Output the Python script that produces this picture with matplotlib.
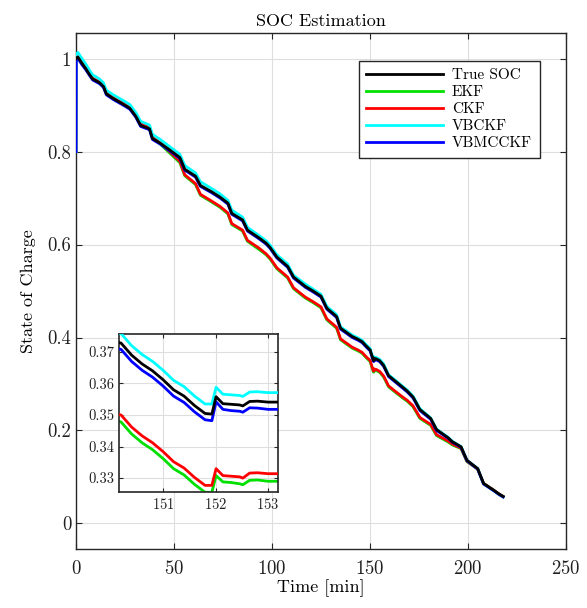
import numpy as np
import matplotlib.pyplot as plt

plt.rcParams['font.family'] = 'serif'
plt.rcParams['font.serif'] = ['cmr10', 'DejaVu Serif']
plt.rcParams['mathtext.fontset'] = 'cm'
plt.rcParams['axes.formatter.use_mathtext'] = True

# time axis [min]; dense section around 150-153 min for the zoomed view
t = np.array([
    0, 0.1, 1, 3, 5, 7, 8.5, 12, 14, 15.5, 19, 24, 27.5, 30.5, 33, 37.5, 39,
    43, 48, 53, 55.5, 61, 63.5, 69, 73.5, 77.5, 79.5, 85, 87.5, 93.5, 97, 99,
    102.5, 108, 111, 117, 121, 125, 128, 133, 135, 141, 144, 146, 148,
    150.2, 150.4, 150.6, 150.8, 151.0, 151.2, 151.4, 151.6, 151.8, 151.93,
    152.01, 152.14, 152.3, 152.46, 152.52, 152.65, 152.8, 153.0, 153.2,
    155, 157, 159.5, 163, 167, 169, 172, 175.5, 181, 184, 190, 192, 196.5,
    199.5, 205, 208, 213, 216, 218])

soc_true = np.array([
    1.000, 1.002, 1.003, 0.990, 0.978, 0.965, 0.956, 0.948, 0.940, 0.924,
    0.914, 0.902, 0.893, 0.876, 0.856, 0.849, 0.828, 0.818, 0.803, 0.787,
    0.762, 0.747, 0.727, 0.714, 0.702, 0.689, 0.667, 0.653, 0.631, 0.614,
    0.603, 0.594, 0.573, 0.553, 0.530, 0.510, 0.500, 0.489, 0.463, 0.445,
    0.420, 0.402, 0.396, 0.391, 0.382,
    0.3728, 0.3690, 0.3662, 0.3640, 0.3612, 0.3580, 0.3560, 0.3530, 0.3505,
    0.3503, 0.3558, 0.3536, 0.3534, 0.3532, 0.3529, 0.3543, 0.3544, 0.3541,
    0.3541,
    0.350, 0.340, 0.318, 0.306, 0.292, 0.285, 0.272, 0.245, 0.226, 0.202,
    0.184, 0.176, 0.165, 0.136, 0.118, 0.086, 0.072, 0.063, 0.058])

# estimation error of each filter relative to the true SOC
err_ekf = np.array([
    -0.200, -0.001, 0.000, 0.000, 0.000, 0.000, 0.000, 0.000, 0.000, 0.000,
    0.000, 0.000, 0.000, 0.000, 0.001, 0.001, 0.001, -0.002, -0.007, -0.011,
    -0.014, -0.018, -0.021, -0.022, -0.022, -0.023, -0.024, -0.024, -0.024,
    -0.025, -0.025, -0.025, -0.025, -0.025, -0.025, -0.025, -0.025, -0.025,
    -0.025, -0.025, -0.025, -0.025, -0.025, -0.025, -0.025,
    -0.025, -0.025, -0.025, -0.025, -0.025, -0.025, -0.025, -0.025, -0.025,
    -0.0248, -0.025, -0.0248, -0.0248, -0.025, -0.025, -0.025, -0.025,
    -0.0251, -0.0251,
    -0.025, -0.025, -0.024, -0.024, -0.023, -0.022, -0.021, -0.019, -0.015,
    -0.013, -0.009, -0.007, -0.004, -0.003, -0.001, 0.000, 0.000, 0.000, 0.000])

err_ckf = np.array([
    -0.200, 0.000, 0.002, 0.002, 0.002, 0.002, 0.002, 0.002, 0.002, 0.002,
    0.002, 0.002, 0.002, 0.002, 0.004, 0.004, 0.003, 0.000, -0.004, -0.008,
    -0.012, -0.016, -0.019, -0.020, -0.020, -0.021, -0.022, -0.022, -0.022,
    -0.022, -0.023, -0.023, -0.023, -0.023, -0.023, -0.023, -0.023, -0.023,
    -0.023, -0.023, -0.023, -0.023, -0.023, -0.023, -0.023,
    -0.0228, -0.0228, -0.0228, -0.0228, -0.0228, -0.0228, -0.0228, -0.0228,
    -0.0228, -0.0226, -0.0228, -0.0228, -0.0228, -0.0228, -0.0229, -0.0227,
    -0.0227, -0.0227, -0.0227,
    -0.023, -0.023, -0.022, -0.022, -0.021, -0.020, -0.019, -0.017, -0.013,
    -0.011, -0.007, -0.005, -0.003, -0.002, -0.001, 0.000, 0.000, 0.000, 0.000])

err_vbckf = np.array([
    -0.200, 0.008, 0.010, 0.010, 0.010, 0.009, 0.009, 0.008, 0.008, 0.008,
    0.008, 0.008, 0.008, 0.008, 0.009, 0.008, 0.009, 0.008, 0.007, 0.007,
    0.008, 0.007, 0.008, 0.007, 0.007, 0.006, 0.007, 0.006, 0.006, 0.005,
    0.005, 0.005, 0.005, 0.005, 0.004, 0.005, 0.004, 0.004, 0.004, 0.004,
    0.003, 0.003, 0.003, 0.003, 0.003,
    0.003, 0.003, 0.003, 0.003, 0.003, 0.003, 0.003, 0.003, 0.003, 0.0032,
    0.003, 0.003, 0.003, 0.003, 0.003, 0.003, 0.003, 0.003, 0.003,
    0.003, 0.003, 0.002, 0.002, 0.002, 0.002, 0.002, 0.002, 0.001, 0.001,
    0.001, 0.001, 0.000, 0.000, 0.000, -0.001, -0.001, -0.001, -0.001])

err_vbmcckf = np.array([
    -0.200, -0.004, -0.003, -0.003, -0.002, -0.002, -0.002, -0.002, -0.002,
    -0.002, -0.002, -0.002, -0.002, -0.002, -0.002, -0.002, -0.002, -0.002,
    -0.002, -0.002, -0.002, -0.002, -0.002, -0.002, -0.002, -0.002, -0.002,
    -0.002, -0.002, -0.002, -0.002, -0.002, -0.002, -0.002, -0.002, -0.002,
    -0.002, -0.002, -0.002, -0.002, -0.002, -0.002, -0.002, -0.002, -0.002,
    -0.002, -0.002, -0.002, -0.002, -0.002, -0.002, -0.002, -0.002, -0.002,
    -0.0021, -0.0016, -0.0018, -0.002, -0.002, -0.002, -0.002, -0.0022,
    -0.0023, -0.0023,
    -0.002, -0.002, -0.002, -0.002, -0.002, -0.002, -0.002, -0.002, -0.002,
    -0.002, -0.001, -0.001, -0.001, -0.001, -0.001, -0.001, -0.001, -0.001,
    -0.001])

labels = ['True SOC', 'EKF', 'CKF', 'VBCKF', 'VBMCCKF']
colors = ['black', '#00e000', '#ff0000', '#00ffff', '#0000ff']
series = [soc_true, soc_true + err_ekf, soc_true + err_ckf,
          soc_true + err_vbckf, soc_true + err_vbmcckf]
zorders = [6, 2, 3, 4, 5]

frame = '#262626'
grid_c = '#dedede'


def style_axes(ax, size):
    ax.tick_params(direction='in', top=True, right=True, length=4,
                   width=0.8, color=frame, labelsize=size, labelcolor='#202020')
    for sp in ax.spines.values():
        sp.set_color(frame)
        sp.set_linewidth(1.0)
    ax.grid(True, color=grid_c, linewidth=0.8)
    ax.set_axisbelow(True)


fig = plt.figure(figsize=(5.87, 6.08), dpi=100)
ax = fig.add_axes([0.1295, 0.097, 0.8345, 0.8487])
for y, lab, c, z in zip(series, labels, colors, zorders):
    ax.plot(t, y, color=c, linewidth=2.0, label=lab, zorder=z)

ax.set_xlim(0, 250)
ax.set_ylim(-0.055, 1.055)
ax.set_xticks([0, 50, 100, 150, 200, 250])
ax.set_yticks([0, 0.2, 0.4, 0.6, 0.8, 1])
ax.set_yticklabels(['0', '0.2', '0.4', '0.6', '0.8', '1'])
style_axes(ax, 13.5)
ax.tick_params(axis='x', pad=8)
ax.set_xlabel('Time [min]', fontsize=13, labelpad=1)
ax.set_ylabel('State of Charge', fontsize=13, labelpad=8)
ax.set_title('SOC Estimation', fontsize=13, pad=5)

leg = ax.legend(loc='upper right', bbox_to_anchor=(0.962, 0.961), fontsize=11,
                handlelength=5.0, labelspacing=0.22, borderpad=0.5,
                handletextpad=0.6, fancybox=False, framealpha=1)
leg.get_frame().set_edgecolor(frame)
leg.get_frame().set_linewidth(1.0)
leg.set_zorder(10)

# zoomed view of the 150-153 min section
axi = fig.add_axes([0.2027, 0.1908, 0.2709, 0.2599])
for y, c, z in zip(series, colors, zorders):
    axi.plot(t, y, color=c, linewidth=2.0, zorder=z)
axi.set_xlim(150.16, 153.19)
axi.set_ylim(0.3256, 0.3757)
axi.set_xticks([151, 152, 153])
axi.set_yticks([0.33, 0.34, 0.35, 0.36, 0.37])
axi.set_yticklabels(['0.33', '0.34', '0.35', '0.36', '0.37'])
style_axes(axi, 10.5)
axi.tick_params(length=3)
for sp in axi.spines.values():
    sp.set_linewidth(1.2)

fig.savefig('out.png', dpi=100)
